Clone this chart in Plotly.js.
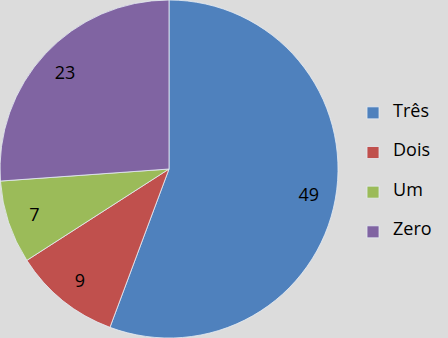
<!DOCTYPE html>
<html>
<head>
<meta charset="utf-8">
<script src="https://cdn.plot.ly/plotly-3.0.1.min.js"></script>
<style>html,body{margin:0;padding:0;background:#dcdcdc;}</style>
</head>
<body>
<div id="chart" style="width:448px;height:338px;"></div>
<script>
const categories = ["Três", "Dois", "Um", "Zero"];
const values = [49, 9, 7, 23];
const colors = ["#4f81bd", "#c0504d", "#9bbb59", "#8064a2"];

const font = "Open Sans, Liberation Sans, sans-serif";
const domain = {x: [0, 0.7545], y: [0, 1]};

// legend entries: blank padding lines above and below give the wide row spacing
const legendLabels = categories.map(c => "\u00a0<br><span style=\"font-size:18px\">" + c + "</span><br>\u00a0");

const pieTrace = {
  type: "pie",
  labels: legendLabels,
  values: values,
  sort: false,
  direction: "clockwise",
  rotation: 0,
  textinfo: "none",
  marker: {colors: colors, line: {color: "#e6ecf4", width: 0.8}},
  domain: domain,
  hoverinfo: "none"
};

// transparent ring carrying the value labels near the outer edge
const labelTrace = {
  type: "pie",
  labels: categories,
  values: values,
  sort: false,
  direction: "clockwise",
  rotation: 0,
  hole: 0.68,
  textinfo: "value",
  textposition: "inside",
  insidetextorientation: "horizontal",
  textfont: {family: font, size: 18, color: "#000000"},
  marker: {colors: ["rgba(0,0,0,0)", "rgba(0,0,0,0)", "rgba(0,0,0,0)", "rgba(0,0,0,0)"], line: {width: 0}},
  domain: domain,
  showlegend: false,
  hoverinfo: "none"
};

const layout = {
  width: 448,
  height: 338,
  margin: {l: 0, r: 0, t: 0, b: 0},
  paper_bgcolor: "#dcdcdc",
  plot_bgcolor: "#dcdcdc",
  showlegend: true,
  legend: {
    x: 0.788, y: 0.4896, xanchor: "left", yanchor: "middle",
    itemwidth: 30,
    font: {family: font, size: 9.4, color: "#000000"},
    bgcolor: "rgba(0,0,0,0)"
  }
};

Plotly.newPlot("chart", [pieTrace, labelTrace], layout, {staticPlot: true});
</script>
</body>
</html>
